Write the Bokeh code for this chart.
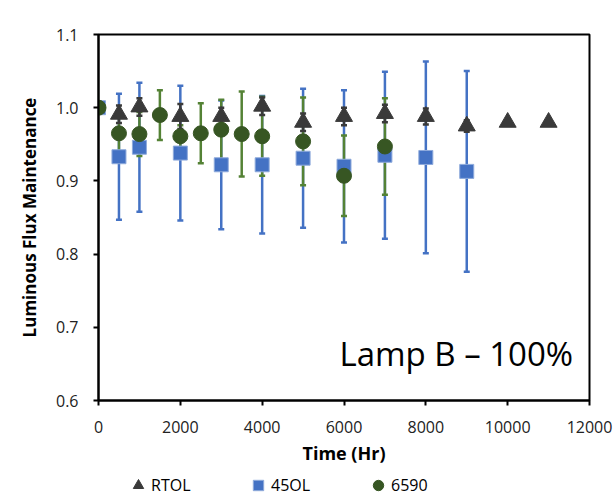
from bokeh.plotting import figure
from bokeh.layouts import column
from bokeh.models import (Legend, LegendItem, Label, FixedTicker,
                          ColumnDataSource, Range1d)
from bokeh.embed import file_html
from bokeh.resources import INLINE

# ---- data ----
rtol_x = [500, 1000, 2000, 3000, 4000, 5000, 6000, 7000, 8000, 9000, 10000, 11000]
rtol_y = [0.991, 1.001, 0.988, 0.988, 1.002, 0.980, 0.988, 0.992, 0.988, 0.975, 0.980, 0.980]
rtol_err = [0.012, 0.012, 0.017, 0.012, 0.012, 0.012, 0.012, 0.012, 0.011, 0.008, 0.0, 0.0]

ol45_x = [0, 500, 1000, 2000, 3000, 4000, 5000, 6000, 7000, 8000, 9000]
ol45_y = [1.000, 0.933, 0.946, 0.938, 0.922, 0.922, 0.931, 0.920, 0.935, 0.932, 0.913]
ol45_err = [0.0, 0.086, 0.088, 0.092, 0.088, 0.094, 0.095, 0.104, 0.114, 0.131, 0.137]

g6590_x = [0, 500, 1000, 1500, 2000, 2500, 3000, 3500, 4000, 5000, 6000, 7000]
g6590_y = [1.000, 0.965, 0.964, 0.990, 0.961, 0.965, 0.970, 0.964, 0.961, 0.954, 0.907, 0.947]
g6590_err = [0.0, 0.025, 0.030, 0.034, 0.015, 0.041, 0.041, 0.058, 0.054, 0.060, 0.055, 0.066]

series_names = ["RTOL", "45OL", "6590"]
x_ticks = [0, 2000, 4000, 6000, 8000, 10000, 12000]
y_ticks = [0.6, 0.7, 0.8, 0.9, 1.0, 1.1]

FONT = "Open Sans"
BLACK_M = "#3a3a3a"
BLUE = "#4472C4"
GREEN_M = "#375623"
GREEN_E = "#548235"

p = figure(width=615, height=476, output_backend="svg", toolbar_location=None,
           x_range=Range1d(0, 12000), y_range=Range1d(0.6, 1.1),
           min_border_left=98, min_border_right=26, min_border_top=34,
           min_border_bottom=76)
p.grid.visible = False
p.background_fill_color = "white"
p.border_fill_color = "white"
p.outline_line_color = "black"
p.outline_line_width = 2

for ax in (p.xaxis[0], p.yaxis[0]):
    ax.axis_line_color = "black"
    ax.axis_line_width = 2
    ax.major_tick_line_color = "black"
    ax.major_tick_line_width = 2
    ax.major_tick_out = 5
    ax.major_tick_in = 0
    ax.minor_tick_line_color = None
    ax.major_label_text_font = FONT
    ax.major_label_text_font_size = "16px"
    ax.major_label_text_color = "#222222"
    ax.axis_label_text_font = FONT
    ax.axis_label_text_font_style = "bold"
    ax.axis_label_text_color = "black"

p.xaxis[0].axis_label_text_font_size = "18px"
p.yaxis[0].axis_label_text_font_size = "17px"
p.xaxis[0].ticker = FixedTicker(ticks=x_ticks)
p.yaxis[0].ticker = FixedTicker(ticks=y_ticks)
p.yaxis[0].major_label_overrides = {t: f"{t:.1f}" for t in y_ticks}
p.xaxis[0].major_label_standoff = 15
p.yaxis[0].major_label_standoff = 15
p.xaxis[0].axis_label = "Time (Hr)"
p.yaxis[0].axis_label = "Luminous Flux Maintenance"
p.xaxis[0].axis_label_standoff = 5
p.yaxis[0].axis_label_standoff = 12


def err_src(xs, ys, es):
    return ColumnDataSource(dict(x=xs, y=ys,
                                 lo=[y - e for y, e in zip(ys, es)],
                                 hi=[y + e for y, e in zip(ys, es)]))


def draw_err(src, color):
    p.segment(x0="x", y0="lo", x1="x", y1="hi", source=src, line_color=color, line_width=2.5)
    p.scatter(x="x", y="lo", source=src, marker="dash", size=6, line_color=color, line_width=2.5)
    p.scatter(x="x", y="hi", source=src, marker="dash", size=6, line_color=color, line_width=2.5)


s_b = err_src(ol45_x, ol45_y, ol45_err)
s_g = err_src(g6590_x, g6590_y, g6590_err)
s_k = err_src(rtol_x, rtol_y, rtol_err)

draw_err(s_b, BLUE)
draw_err(s_g, GREEN_E)
draw_err(s_k, BLACK_M)

sq_style = dict(marker="square", fill_color=BLUE, line_color="#8eaadb", line_width=1)
tri_style = dict(marker="triangle", fill_color=BLACK_M, line_color=BLACK_M, line_width=1)
ci_style = dict(marker="circle", fill_color=GREEN_M, line_color=GREEN_M, line_width=1)

p.scatter(x="x", y="y", source=s_b, size=14, **sq_style)
p.scatter(x="x", y="y", source=s_k, size=17, **tri_style)
p.scatter(x="x", y="y", source=s_g, size=15, **ci_style)

p.add_layout(Label(x=11600, y=0.664, text="Lamp B – 100%", text_align="right",
                   text_baseline="middle", text_font=FONT,
                   text_font_size="33px", text_color="black"))

# ---- legend strip (frame aligned with main plot by the column layout) ----
lg = figure(width=615, height=19, output_backend="svg", toolbar_location=None,
            x_range=Range1d(0, 1), y_range=Range1d(0, 1),
            x_axis_type=None, y_axis_type=None,
            min_border_left=98, min_border_right=26, min_border_top=0, min_border_bottom=0)
lg.grid.visible = False
lg.outline_line_color = None
lg.background_fill_color = "white"
lg.border_fill_color = "white"

# legend swatches: one point each, placed outside the visible range
off = dict(x=[-5], y=[-5])
lr_tri = lg.scatter(x="x", y="y", source=ColumnDataSource(off), size=10, **tri_style)
lr_sq = lg.scatter(x="x", y="y", source=ColumnDataSource(off), size=10, **sq_style)
lr_ci = lg.scatter(x="x", y="y", source=ColumnDataSource(off), size=10, **ci_style)

legend = Legend(items=[LegendItem(label=series_names[0], renderers=[lr_tri]),
                       LegendItem(label=series_names[1], renderers=[lr_sq]),
                       LegendItem(label=series_names[2], renderers=[lr_ci])],
                orientation="horizontal", location=(27, -3),
                label_text_font=FONT, label_text_font_size="16px",
                label_text_color="black", glyph_width=26, glyph_height=26,
                spacing=49, label_standoff=-2, label_width=45,
                padding=0, margin=0,
                border_line_color=None, background_fill_alpha=0)
lg.add_layout(legend, "center")

layout = column(p, lg, spacing=0)
open("out.html", "w").write(file_html(layout, INLINE))
